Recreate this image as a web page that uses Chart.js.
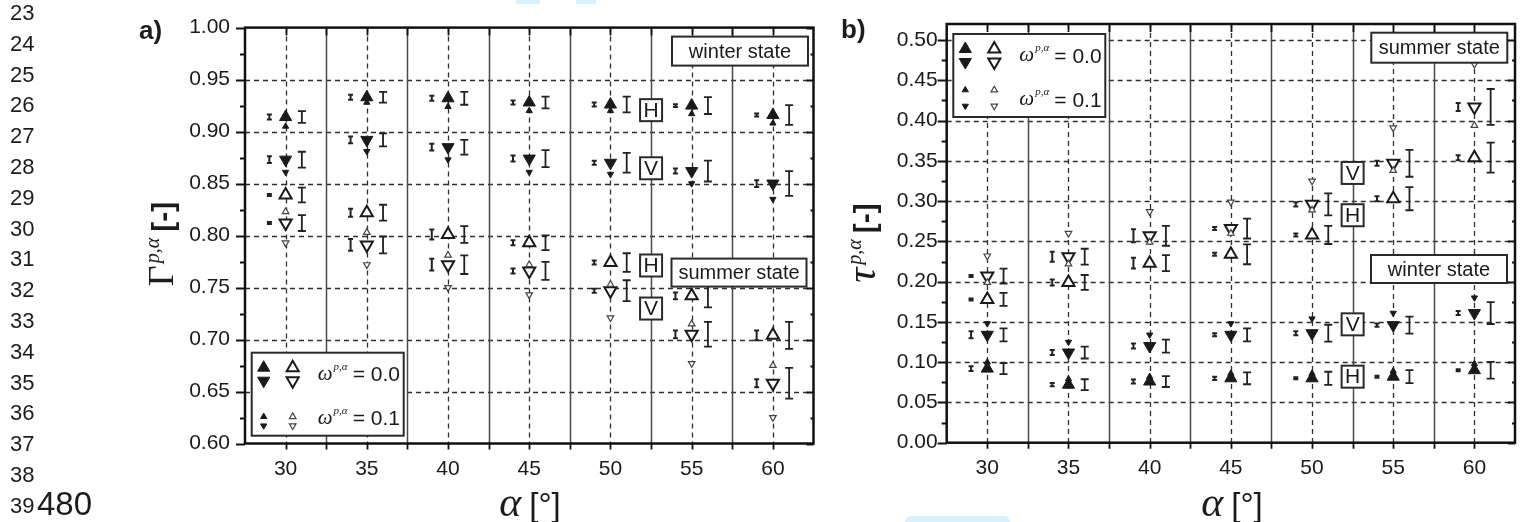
<!DOCTYPE html>
<html>
<head>
<meta charset="utf-8">
<title>Gamma / tau vs alpha</title>
<script src="https://cdn.jsdelivr.net/npm/chart.js@4.4.0/dist/chart.umd.min.js"></script>
<style>
  html, body { margin: 0; padding: 0; background: #fff; }
  #page { position: relative; width: 1528px; height: 522px; overflow: hidden;
          font-family: "Liberation Sans", Arial, sans-serif; color: #1c1c1c; }
  #page canvas { position: absolute; left: 0; top: 0; }
  .ln { position: absolute; left: 10px; font-size: 22px; line-height: 22px; }
  .tag { position: absolute; font-weight: bold; font-size: 26px; line-height: 26px; }
  .ytitle { position: absolute; white-space: nowrap; transform: translate(-50%, -50%) rotate(-90deg); line-height: 1; }
  .xtitle { position: absolute; white-space: nowrap; transform: translate(-50%, -50%); line-height: 1; }
  .serif { font-family: "Liberation Serif", "Times New Roman", serif; }
  .it { font-style: italic; }
  .wm { position: absolute; background: #d9f1fb; }
</style>
</head>
<body>
<div id="page">
  <canvas id="chartA" width="1528" height="522"></canvas>
  <canvas id="chartB" width="1528" height="522"></canvas>

  <div class="wm" style="left:516px;top:0;width:24px;height:4px"></div>
  <div class="wm" style="left:576px;top:0;width:20px;height:4px"></div>
  <div class="wm" style="left:905px;top:516px;width:105px;height:6px;border-radius:6px 6px 0 0"></div>

  <div class="tag" style="left:139px;top:17px">a)</div>
  <div class="tag" style="left:841px;top:16px">b)</div>

  <div class="ytitle" style="left:161px;top:244px"><span class="serif" style="font-size:36px">&Gamma;</span><span class="serif it" style="font-size:20px;position:relative;top:-14px;margin-left:2px">p,&alpha;</span><span style="font-weight:bold;font-size:30px;margin-left:6px">[-]</span></div>
  <div class="ytitle" style="left:861px;top:243px"><span class="serif it" style="font-size:42px">&tau;</span><span class="serif it" style="font-size:20px;position:relative;top:-14px;margin-left:3px">p,&alpha;</span><span style="font-weight:bold;font-size:30px;margin-left:6px">[-]</span></div>

  <div class="xtitle" style="left:530px;top:502px"><span class="serif it" style="font-size:42px">&alpha;</span><span style="font-size:33px;margin-left:8px">[&deg;]</span></div>
  <div class="xtitle" style="left:1232px;top:502px"><span class="serif it" style="font-size:42px">&alpha;</span><span style="font-size:33px;margin-left:8px">[&deg;]</span></div>
</div>

<script>
// ---- data -------------------------------------------------------------
const alphas = [30, 35, 40, 45, 50, 55, 60];
const xTicks = [30, 35, 40, 45, 50, 55, 60];
const gammaTicks = [0.60, 0.65, 0.70, 0.75, 0.80, 0.85, 0.90, 0.95, 1.00];
const tauTicks = [0.00, 0.05, 0.10, 0.15, 0.20, 0.25, 0.30, 0.35, 0.40, 0.45, 0.50];

// Gamma, winter state (filled): up = H, down = V; suffix 0 -> omega 0.0, 1 -> omega 0.1
const gammaWinterH0 = [0.914, 0.933, 0.932, 0.928, 0.926, 0.925, 0.916];
const gammaWinterH1 = [0.905, 0.928, 0.924, 0.920, 0.920, 0.917, 0.908];
const gammaWinterV0 = [0.873, 0.892, 0.885, 0.874, 0.870, 0.862, 0.850];
const gammaWinterV1 = [0.861, 0.881, 0.873, 0.861, 0.859, 0.850, 0.835];
// Gamma, summer state (open)
const gammaSummerH0 = [0.839, 0.822, 0.801, 0.793, 0.774, 0.742, 0.704];
const gammaSummerH1 = [0.823, 0.803, 0.781, 0.772, 0.753, 0.715, 0.675];
const gammaSummerV0 = [0.812, 0.791, 0.772, 0.766, 0.747, 0.705, 0.658];
const gammaSummerV1 = [0.793, 0.772, 0.750, 0.743, 0.721, 0.677, 0.625];
// Gamma error half-widths: left bar (alpha - 1) and right bar (alpha + 1)
const gammaWinterH0ErrL = [0.0024, 0.0024, 0.0024, 0.0019, 0.0019, 0.0014, 0.0014];
const gammaWinterH0ErrR = [0.0057, 0.0052, 0.0062, 0.0057, 0.0076, 0.0081, 0.0095];
const gammaWinterV0ErrL = [0.0033, 0.0033, 0.0033, 0.0029, 0.0019, 0.0024, 0.0033];
const gammaWinterV0ErrR = [0.0076, 0.0062, 0.0071, 0.0081, 0.0095, 0.0100, 0.0119];
const gammaSummerH0ErrL = [0.0010, 0.0038, 0.0048, 0.0024, 0.0019, 0.0033, 0.0048];
const gammaSummerH0ErrR = [0.0071, 0.0076, 0.0081, 0.0071, 0.0090, 0.0110, 0.0129];
const gammaSummerV0ErrL = [0.0010, 0.0057, 0.0057, 0.0024, 0.0019, 0.0038, 0.0038];
const gammaSummerV0ErrR = [0.0076, 0.0081, 0.0090, 0.0086, 0.0100, 0.0119, 0.0148];

// tau, winter state (filled)
const tauWinterH0 = [0.092, 0.072, 0.076, 0.080, 0.080, 0.082, 0.090];
const tauWinterH1 = [0.100, 0.079, 0.082, 0.086, 0.086, 0.089, 0.098];
const tauWinterV0 = [0.134, 0.112, 0.120, 0.134, 0.136, 0.146, 0.161];
const tauWinterV1 = [0.148, 0.125, 0.134, 0.148, 0.154, 0.161, 0.180];
// tau, summer state (open)
const tauSummerH0 = [0.178, 0.199, 0.223, 0.234, 0.258, 0.303, 0.354];
const tauSummerH1 = [0.199, 0.222, 0.249, 0.260, 0.289, 0.338, 0.394];
const tauSummerV0 = [0.207, 0.231, 0.257, 0.266, 0.296, 0.347, 0.417];
const tauSummerV1 = [0.232, 0.260, 0.287, 0.299, 0.325, 0.391, 0.470];
// tau error half-widths
const tauWinterH0ErrL = [0.0030, 0.0020, 0.0025, 0.0020, 0.0012, 0.0012, 0.0012];
const tauWinterH0ErrR = [0.0068, 0.0068, 0.0068, 0.0074, 0.0081, 0.0081, 0.0105];
const tauWinterV0ErrL = [0.0043, 0.0031, 0.0031, 0.0019, 0.0025, 0.0019, 0.0025];
const tauWinterV0ErrR = [0.0081, 0.0074, 0.0081, 0.0081, 0.0105, 0.0105, 0.0136];
const tauSummerH0ErrL = [0.0012, 0.0037, 0.0068, 0.0019, 0.0019, 0.0031, 0.0031];
const tauSummerH0ErrR = [0.0081, 0.0093, 0.0099, 0.0124, 0.0112, 0.0143, 0.0186];
const tauSummerV0ErrL = [0.0012, 0.0062, 0.0081, 0.0019, 0.0025, 0.0031, 0.0050];
const tauSummerV0ErrR = [0.0093, 0.0099, 0.0124, 0.0124, 0.0136, 0.0167, 0.0223];

// ---- page furniture ---------------------------------------------------
const page = document.getElementById('page');
for (let n = 23; n <= 39; n++) {
  const d = document.createElement('div');
  d.className = 'ln';
  d.style.top = (2 + (n - 23) * 30.8) + 'px';
  d.textContent = n;
  page.appendChild(d);
}
const pageNo = document.createElement('div');
pageNo.className = 'ln';
pageNo.style.cssText = 'left:37px;top:487px;font-size:33px;line-height:33px';
pageNo.textContent = '480';
page.appendChild(pageNo);

// ---- drawing helpers --------------------------------------------------
const INK = '#1a1a1a';
const SANS = '"Liberation Sans", Arial, sans-serif';
const SERIF = '"Liberation Serif", "Times New Roman", serif';

function tri(ctx, x, y, r, down, filled, lw, color) {
  const s = down ? -1 : 1;
  ctx.beginPath();
  ctx.moveTo(x, y - s * r);
  ctx.lineTo(x + r * 0.866, y + s * r * 0.5);
  ctx.lineTo(x - r * 0.866, y + s * r * 0.5);
  ctx.closePath();
  ctx.fillStyle = filled ? color : '#fff';
  ctx.fill();
  ctx.lineWidth = lw;
  ctx.strokeStyle = color;
  ctx.stroke();
}

function iBar(ctx, px, top, bot, cap, lw) {
  if (bot - top < 2) { const m = (top + bot) / 2; top = m - 1; bot = m + 1; }
  ctx.lineWidth = lw;
  ctx.beginPath();
  ctx.moveTo(px, top); ctx.lineTo(px, bot);
  ctx.moveTo(px - cap, top); ctx.lineTo(px + cap, top);
  ctx.moveTo(px - cap, bot); ctx.lineTo(px + cap, bot);
  ctx.stroke();
}

function boxText(ctx, x, y, w, h, text, size) {
  ctx.fillStyle = '#fff';
  ctx.fillRect(x, y, w, h);
  ctx.lineWidth = 2;
  ctx.strokeStyle = '#2a2a2a';
  ctx.strokeRect(x, y, w, h);
  ctx.fillStyle = INK;
  ctx.font = size + 'px ' + SANS;
  ctx.textAlign = 'center';
  ctx.textBaseline = 'middle';
  ctx.fillText(text, x + w / 2, y + h / 2 + 1);
}

function legendRow(ctx, x, y, value) {
  ctx.textAlign = 'left';
  ctx.textBaseline = 'alphabetic';
  ctx.fillStyle = INK;
  ctx.font = 'italic 21px ' + SERIF;
  ctx.fillText('\u03c9', x, y + 6);
  const w = ctx.measureText('\u03c9').width;
  ctx.font = 'italic 11px ' + SERIF;
  ctx.fillText('p,\u03b1', x + w + 1, y - 4);
  ctx.font = '21px ' + SANS;
  ctx.fillText('= ' + value, x + 35, y + 7.5);
}

// grid, error bars, tags, legend and frame for one panel
const panelPlugin = {
  id: 'panel',
  beforeDatasetsDraw(chart, args, o) {
    const { ctx, chartArea: a, scales: { x, y } } = chart;
    ctx.save();
    ctx.strokeStyle = '#2e2e2e';
    ctx.lineWidth = 1.3;
    ctx.setLineDash([5, 4]);
    o.yTicks.forEach(v => {
      const py = Math.round(y.getPixelForValue(v)) + 0.5;
      if (py < a.top + 3 || py > a.bottom - 3) return;
      ctx.beginPath(); ctx.moveTo(a.left, py); ctx.lineTo(a.right, py); ctx.stroke();
    });
    xTicks.forEach(v => {
      const px = Math.round(x.getPixelForValue(v)) + 0.5;
      ctx.beginPath(); ctx.moveTo(px, a.top); ctx.lineTo(px, a.bottom); ctx.stroke();
    });
    ctx.setLineDash([]);
    ctx.strokeStyle = '#4a4a4a';
    ctx.lineWidth = 1.5;
    for (let i = 0; i < alphas.length - 1; i++) {
      const px = Math.round(x.getPixelForValue((alphas[i] + alphas[i + 1]) / 2)) + 0.5;
      ctx.beginPath(); ctx.moveTo(px, a.top); ctx.lineTo(px, a.bottom); ctx.stroke();
    }
    ctx.restore();
  },
  afterDatasetsDraw(chart, args, o) {
    const { ctx, chartArea: a, scales: { x, y } } = chart;
    ctx.save();

    // error bars beside the large markers
    ctx.strokeStyle = '#222';
    chart.data.datasets.forEach(ds => {
      if (!ds.errL) return;
      ds.data.forEach((p, i) => {
        const l = x.getPixelForValue(p.x - 1), r = x.getPixelForValue(p.x + 1);
        iBar(ctx, l, y.getPixelForValue(p.y + ds.errL[i]), y.getPixelForValue(p.y - ds.errL[i]), 2.5, 2);
        iBar(ctx, r, y.getPixelForValue(p.y + ds.errR[i]), y.getPixelForValue(p.y - ds.errR[i]), 4, 1.8);
      });
    });

    // H / V tags on the 52.5 divider
    o.tags.forEach(t => {
      const px = x.getPixelForValue(t.x), py = y.getPixelForValue(t.y);
      boxText(ctx, px - 11, py - 11, 22, 22, t.text, 21);
    });

    // state labels
    o.states.forEach(s => boxText(ctx, a.right - s.dx - s.w, a.top + s.dy, s.w, s.h, s.text, 20));

    // legend
    const L = o.legend;
    const lx = a.left + L.dx, ly = L.fromTop ? a.top + L.dy : a.bottom - L.dy - 83;
    ctx.fillStyle = '#fff';
    ctx.fillRect(lx, ly, 152, 83);
    ctx.lineWidth = 2;
    ctx.strokeStyle = '#2a2a2a';
    ctx.strokeRect(lx, ly, 152, 83);
    tri(ctx, lx + 12, ly + 15, 7, false, true, 1, INK);
    tri(ctx, lx + 12, ly + 28, 7, true, true, 1, INK);
    tri(ctx, lx + 41, ly + 15, 7, false, false, 2, INK);
    tri(ctx, lx + 41, ly + 28, 7, true, false, 2, INK);
    tri(ctx, lx + 12, ly + L.small[0], 3.6, false, true, 1, INK);
    tri(ctx, lx + 12, ly + L.small[1], 3.6, true, true, 1, INK);
    tri(ctx, lx + 41, ly + L.small[0], 3.8, false, false, 1.2, '#444');
    tri(ctx, lx + 41, ly + L.small[1], 3.8, true, false, 1.2, '#444');
    legendRow(ctx, lx + 66, ly + 21, '0.0');
    legendRow(ctx, lx + 66, ly + 65, '0.1');

    // frame and tick marks
    ctx.strokeStyle = '#111';
    ctx.lineWidth = 2.5;
    ctx.strokeRect(a.left, a.top, a.width, a.height);
    ctx.lineWidth = 1.8;
    const yMinor = [];
    for (let i = 0; i < o.yTicks.length - 1; i++) yMinor.push((o.yTicks[i] + o.yTicks[i + 1]) / 2);
    const hTick = (v, len) => {
      const py = Math.round(y.getPixelForValue(v)) + 0.5;
      ctx.beginPath();
      ctx.moveTo(a.left - len, py); ctx.lineTo(a.left, py);
      ctx.moveTo(a.right - len + 2, py); ctx.lineTo(a.right, py);
      ctx.stroke();
    };
    o.yTicks.forEach(v => hTick(v, 9));
    yMinor.forEach(v => hTick(v, 5));
    const xMinor = [];
    for (let i = 0; i < alphas.length - 1; i++) xMinor.push((alphas[i] + alphas[i + 1]) / 2);
    xTicks.concat(xMinor).forEach(v => {
      const px = Math.round(x.getPixelForValue(v)) + 0.5;
      ctx.beginPath();
      ctx.moveTo(px, a.bottom); ctx.lineTo(px, a.bottom + 6);
      ctx.moveTo(px, a.top); ctx.lineTo(px, a.top + 8);
      ctx.stroke();
    });
    ctx.restore();
  }
};

// ---- datasets ----------------------------------------------------------
function markers(vals, down, filled, big, errL, errR) {
  return {
    data: alphas.map((a, i) => ({ x: a, y: vals[i] })),
    pointStyle: 'triangle',
    rotation: down ? 180 : 0,
    pointRadius: big ? 7 : (filled ? 3.6 : 3.8),
    pointHoverRadius: big ? 7 : 3.8,
    backgroundColor: filled ? INK : '#fff',
    borderColor: filled || big ? INK : '#444',
    borderWidth: filled ? 1 : (big ? 2 : 1.2),
    showLine: false,
    errL: errL,
    errR: errR
  };
}

function makePanel(id, area, yMin, yMax, yTicks, labelPad, datasets, extra) {
  return new Chart(document.getElementById(id), {
    type: 'scatter',
    data: { datasets: datasets },
    plugins: [panelPlugin],
    options: {
      responsive: false,
      animation: false,
      events: [],
      layout: { padding: { left: area.left - 70, top: area.top, right: 1528 - area.right, bottom: 0 } },
      plugins: {
        legend: { display: false },
        tooltip: { enabled: false },
        panel: Object.assign({ yTicks: yTicks }, extra)
      },
      scales: {
        x: {
          type: 'linear', min: 27.5, max: 62.5,
          afterBuildTicks: s => { s.ticks = xTicks.map(v => ({ value: v })); },
          afterFit: s => { s.height = 522 - area.bottom; },
          grid: { display: false, drawTicks: false },
          border: { display: false },
          ticks: { autoSkip: false, maxRotation: 0, padding: 13, color: INK,
                   font: { family: SANS, size: 21 }, callback: v => String(v) }
        },
        y: {
          type: 'linear', min: yMin, max: yMax,
          afterBuildTicks: s => { s.ticks = yTicks.map(v => ({ value: v })); },
          afterFit: s => { s.width = 70; },
          grid: { display: false, drawTicks: false },
          border: { display: false },
          ticks: { autoSkip: false, padding: labelPad, color: INK,
                   font: { family: SANS, size: 21 }, callback: v => v.toFixed(2) }
        }
      }
    }
  });
}

makePanel('chartA', { left: 245, right: 813.5, top: 24, bottom: 443.5 }, 0.60, 1.00, gammaTicks, 15, [
  markers(gammaWinterH1, false, true, false),
  markers(gammaWinterV1, true, true, false),
  markers(gammaSummerH1, false, false, false),
  markers(gammaSummerV1, true, false, false),
  markers(gammaWinterH0, false, true, true, gammaWinterH0ErrL, gammaWinterH0ErrR),
  markers(gammaWinterV0, true, true, true, gammaWinterV0ErrL, gammaWinterV0ErrR),
  markers(gammaSummerH0, false, false, true, gammaSummerH0ErrL, gammaSummerH0ErrR),
  markers(gammaSummerV0, true, false, true, gammaSummerV0ErrL, gammaSummerV0ErrR)
], {
  tags: [
    { text: 'H', x: 52.5, y: 0.9206 }, { text: 'V', x: 52.5, y: 0.8647 },
    { text: 'H', x: 52.5, y: 0.7712 }, { text: 'V', x: 52.5, y: 0.7298 }
  ],
  states: [
    { text: 'winter state', dx: 5.5, dy: 9, w: 136, h: 29 },
    { text: 'summer state', dx: 7, dy: 231, w: 135, h: 28 }
  ],
  legend: { dx: 6.7, dy: 7.8, fromTop: false, small: [64, 73] }
});

makePanel('chartB', { left: 946.7, right: 1515, top: 24, bottom: 442.7 }, 0, 0.52, tauTicks, 9, [
  markers(tauWinterH1, false, true, false),
  markers(tauWinterV1, true, true, false),
  markers(tauSummerH1, false, false, false),
  markers(tauSummerV1, true, false, false),
  markers(tauWinterH0, false, true, true, tauWinterH0ErrL, tauWinterH0ErrR),
  markers(tauWinterV0, true, true, true, tauWinterV0ErrL, tauWinterV0ErrR),
  markers(tauSummerH0, false, false, true, tauSummerH0ErrL, tauSummerH0ErrR),
  markers(tauSummerV0, true, false, true, tauSummerV0ErrL, tauSummerV0ErrR)
], {
  tags: [
    { text: 'V', x: 52.5, y: 0.335 }, { text: 'H', x: 52.5, y: 0.2825 },
    { text: 'V', x: 52.5, y: 0.147 }, { text: 'H', x: 52.5, y: 0.082 }
  ],
  states: [
    { text: 'summer state', dx: 7.7, dy: 8.7, w: 136, h: 30 },
    { text: 'winter state', dx: 8, dy: 231, w: 136, h: 28 }
  ],
  legend: { dx: 6.6, dy: 10, fromTop: true, small: [56, 72] }
});
</script>
</body>
</html>
